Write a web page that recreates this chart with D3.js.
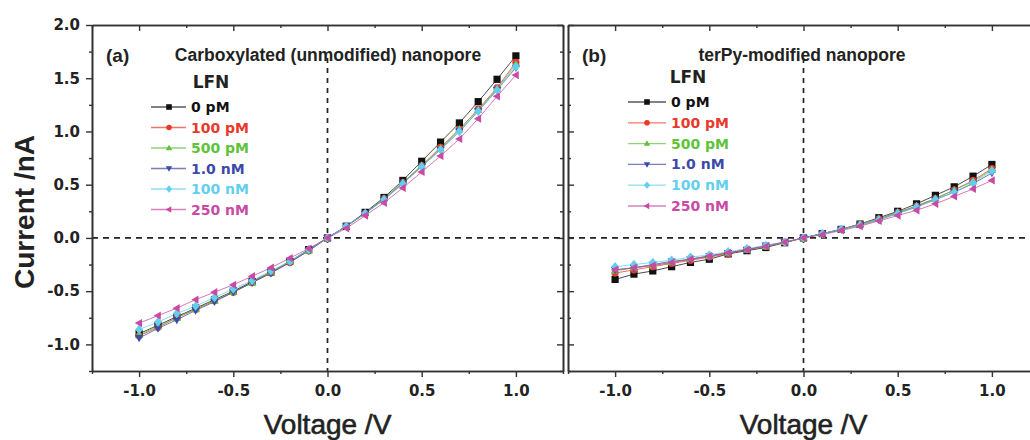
<!DOCTYPE html>
<html><head><meta charset="utf-8">
<script src="https://cdn.jsdelivr.net/npm/d3@7"></script>
<style>
body{margin:0;background:#fff;}
svg{display:block;}
</style></head>
<body><svg id="c" width="1030" height="440"></svg>
<script>
// ---- data ----
const voltages = [-1.0,-0.9,-0.8,-0.7,-0.6,-0.5,-0.4,-0.3,-0.2,-0.1,0.0,0.1,0.2,0.3,0.4,0.5,0.6,0.7,0.8,0.9,1.0];
const seriesNames = ["0 pM","100 pM","500 pM","1.0 nM","100 nM","250 nM"];
const seriesColors = ["#111111","#e8392b","#5fc23a","#3c49a8","#62cfef","#c94aa4"];
const seriesShapes = ["square","circle","triUp","triDown","diamond","triLeft"];

const a0pM   = [-0.90,-0.82,-0.74,-0.66,-0.58,-0.50,-0.41,-0.32,-0.22,-0.11,0.00,0.11,0.24,0.38,0.54,0.72,0.90,1.08,1.28,1.49,1.71];
const a100pM = [-0.92,-0.84,-0.75,-0.67,-0.59,-0.51,-0.42,-0.33,-0.23,-0.12,0.00,0.11,0.23,0.37,0.52,0.68,0.85,1.02,1.21,1.41,1.65];
const a500pM = [-0.91,-0.83,-0.75,-0.67,-0.59,-0.51,-0.42,-0.32,-0.22,-0.12,0.00,0.11,0.23,0.37,0.52,0.68,0.84,1.02,1.20,1.40,1.63];
const a1nM   = [-0.94,-0.85,-0.77,-0.68,-0.60,-0.51,-0.42,-0.33,-0.23,-0.12,0.00,0.11,0.23,0.36,0.51,0.67,0.83,1.00,1.19,1.39,1.60];
const a100nM = [-0.86,-0.79,-0.71,-0.64,-0.56,-0.48,-0.40,-0.31,-0.22,-0.11,0.00,0.11,0.23,0.36,0.51,0.67,0.83,1.00,1.19,1.39,1.61];
const a250nM = [-0.80,-0.73,-0.66,-0.58,-0.51,-0.44,-0.36,-0.28,-0.19,-0.10,0.00,0.09,0.21,0.33,0.47,0.62,0.77,0.93,1.12,1.33,1.53];

const b0pM   = [-0.39,-0.34,-0.31,-0.27,-0.23,-0.20,-0.15,-0.12,-0.09,-0.045,0.00,0.04,0.08,0.13,0.19,0.25,0.32,0.40,0.48,0.58,0.69];
const b100pM = [-0.33,-0.30,-0.27,-0.24,-0.21,-0.18,-0.15,-0.11,-0.08,-0.04,0.00,0.04,0.08,0.13,0.18,0.24,0.30,0.37,0.45,0.54,0.65];
const b500pM = [-0.31,-0.28,-0.26,-0.23,-0.20,-0.17,-0.14,-0.11,-0.08,-0.04,0.00,0.04,0.08,0.13,0.18,0.24,0.30,0.37,0.45,0.53,0.64];
const b1nM   = [-0.30,-0.28,-0.25,-0.22,-0.20,-0.17,-0.14,-0.11,-0.07,-0.04,0.00,0.04,0.08,0.12,0.17,0.23,0.29,0.36,0.43,0.51,0.61];
const b100nM = [-0.27,-0.25,-0.23,-0.21,-0.18,-0.16,-0.13,-0.10,-0.07,-0.04,0.00,0.04,0.08,0.12,0.17,0.23,0.29,0.36,0.43,0.52,0.63];
const b250nM = [-0.30,-0.28,-0.26,-0.23,-0.20,-0.17,-0.14,-0.11,-0.08,-0.04,0.00,0.03,0.07,0.11,0.16,0.21,0.26,0.32,0.39,0.46,0.54];

const xMajor = [-1.0,-0.5,0.0,0.5,1.0];
const xMinor = [-1.25,-0.75,-0.25,0.25,0.75,1.25];
const yMajor = [-1.0,-0.5,0.0,0.5,1.0,1.5,2.0];
const yMinor = [-1.25,-0.75,-0.25,0.25,0.75,1.25,1.75];
const yLabel = "Current /nA";
const xLabel = "Voltage /V";
const legendTitle = "LFN";

const panels = [
  {tag:"(a)", title:"Carboxylated (unmodified) nanopore", series:[a0pM,a100pM,a500pM,a1nM,a100nM,a250nM],
   left:92, right:563, yAxisLabels:true,
   tagX:106, titleX:328, leg:{lx0:151, mx:169, lx1:186, tx:191, y0:107, dy:20.5, ttlX:211, ttlY:82}},
  {tag:"(b)", title:"terPy-modified nanopore", series:[b0pM,b100pM,b500pM,b1nM,b100nM,b250nM],
   left:568, right:1039, yAxisLabels:false,
   tagX:582, titleX:802, leg:{lx0:628, mx:647, lx1:666, tx:671, y0:102, dy:20.8, ttlX:688, ttlY:77}}
];

// ---- drawing ----
const svg = d3.select("#c");
const plotTop = 25, plotBottom = 371;
const y = d3.scaleLinear().domain([-1.25, 2.0]).range([plotBottom, plotTop]);
const tickFont = "'DejaVu Sans', sans-serif";

function symbolPath(shape, s){
  const h = s;
  switch(shape){
    case "square": return `M${-h},${-h}H${h}V${h}H${-h}Z`;
    case "circle": return d3.symbol(d3.symbolCircle, Math.PI*h*h)();
    case "triUp": return `M0,${-h*1.2}L${h*1.15},${h*0.8}L${-h*1.15},${h*0.8}Z`;
    case "triDown": return `M0,${h*1.2}L${h*1.15},${-h*0.8}L${-h*1.15},${-h*0.8}Z`;
    case "diamond": return `M0,${-h*1.3}L${h*1.1},0L0,${h*1.3}L${-h*1.1},0Z`;
    case "triLeft": return `M${-h*1.2},0L${h*0.8},${-h*1.15}L${h*0.8},${h*1.15}Z`;
  }
}

panels.forEach(p => {
  const x = d3.scaleLinear().domain([-1.25, 1.25]).range([p.left, p.right]);
  const g = svg.append("g");

  // zero dashed lines
  g.append("line").attr("x1",p.left).attr("x2",p.right).attr("y1",y(0)).attr("y2",y(0))
    .attr("stroke","#222").attr("stroke-width",1.7).attr("stroke-dasharray","6,5");
  g.append("line").attr("x1",x(0)).attr("x2",x(0)).attr("y1",58).attr("y2",plotBottom)
    .attr("stroke","#222").attr("stroke-width",1.7).attr("stroke-dasharray","5,5");

  // axes
  const axStyle = sel => { sel.selectAll("path.domain").attr("stroke","#333").attr("stroke-width",1.6);
    sel.selectAll(".tick line").attr("stroke","#333").attr("stroke-width",1.4); };
  const fmt = d => d3.format(".1f")(d).replace("\u2212","-");

  const bMaj = g.append("g").attr("transform",`translate(0,${plotBottom})`)
    .call(d3.axisBottom(x).tickValues(xMajor).tickSizeInner(6).tickSizeOuter(0).tickPadding(8).tickFormat(fmt));
  bMaj.call(axStyle);
  bMaj.selectAll("text").attr("font-family",tickFont).attr("font-weight","bold").attr("font-size",15).attr("fill","#222");
  const bMin = g.append("g").attr("transform",`translate(0,${plotBottom})`)
    .call(d3.axisBottom(x).tickValues(xMinor).tickSizeInner(3).tickSizeOuter(0).tickFormat(""));
  bMin.call(axStyle);

  const tMaj = g.append("g").attr("transform",`translate(0,${plotTop})`)
    .call(d3.axisTop(x).tickValues(xMajor).tickSizeInner(-6).tickSizeOuter(0).tickFormat(""));
  tMaj.call(axStyle);
  const tMin = g.append("g").attr("transform",`translate(0,${plotTop})`)
    .call(d3.axisTop(x).tickValues(xMinor).tickSizeInner(-3).tickSizeOuter(0).tickFormat(""));
  tMin.call(axStyle);

  const lMaj = g.append("g").attr("transform",`translate(${p.left},0)`)
    .call(d3.axisLeft(y).tickValues(yMajor).tickSizeInner(p.yAxisLabels?6:-6).tickSizeOuter(0).tickPadding(p.yAxisLabels?6:3)
      .tickFormat(p.yAxisLabels ? fmt : ""));
  lMaj.call(axStyle);
  lMaj.selectAll("text").attr("font-family",tickFont).attr("font-weight","bold").attr("font-size",15).attr("fill","#222");
  const lMin = g.append("g").attr("transform",`translate(${p.left},0)`)
    .call(d3.axisLeft(y).tickValues(yMinor).tickSizeInner(p.yAxisLabels?3:-3).tickSizeOuter(0).tickFormat(""));
  lMin.call(axStyle);

  const rMaj = g.append("g").attr("transform",`translate(${p.right},0)`)
    .call(d3.axisRight(y).tickValues(yMajor).tickSizeInner(-6).tickSizeOuter(0).tickFormat(""));
  rMaj.call(axStyle);
  const rMin = g.append("g").attr("transform",`translate(${p.right},0)`)
    .call(d3.axisRight(y).tickValues(yMinor).tickSizeInner(-3).tickSizeOuter(0).tickFormat(""));
  rMin.call(axStyle);

  // series
  const line = d3.line().x((d,i)=>x(voltages[i])).y(d=>y(d));
  p.series.forEach((vals, si) => {
    g.append("path").datum(vals).attr("d", line).attr("fill","none")
      .attr("stroke", seriesColors[si]).attr("stroke-width",1).attr("stroke-opacity",0.75);
  });
  p.series.forEach((vals, si) => {
    g.selectAll(null).data(vals).enter().append("path")
      .attr("transform",(d,i)=>`translate(${x(voltages[i])},${y(d)})`)
      .attr("d", symbolPath(seriesShapes[si], 3.6))
      .attr("fill", seriesColors[si]);
  });

  // labels
  g.append("text").attr("x",p.tagX).attr("y",55).attr("dominant-baseline","central")
    .attr("font-family","'Liberation Sans', Arial, sans-serif").attr("font-weight","bold").attr("font-size",19).attr("fill","#222").text(p.tag);
  g.append("text").attr("x",p.titleX).attr("y",55).attr("dominant-baseline","central").attr("text-anchor","middle")
    .attr("font-family","'Liberation Sans', Arial, sans-serif").attr("font-weight","bold").attr("font-size",17.5).attr("fill","#222").text(p.title);

  // legend
  const L = p.leg;
  g.append("text").attr("x",L.ttlX).attr("y",L.ttlY).attr("dominant-baseline","central").attr("text-anchor","middle")
    .attr("font-family",tickFont).attr("font-weight","bold").attr("font-size",17).attr("fill","#222").text(legendTitle);
  seriesNames.forEach((nm, si) => {
    const yy = L.y0 + si*L.dy;
    g.append("line").attr("x1",L.lx0).attr("x2",L.lx1).attr("y1",yy).attr("y2",yy)
      .attr("stroke",seriesColors[si]).attr("stroke-width",1.3).attr("stroke-opacity",0.7);
    g.append("path").attr("transform",`translate(${L.mx},${yy})`).attr("d",symbolPath(seriesShapes[si],2.8)).attr("fill",seriesColors[si]);
    g.append("text").attr("x",L.tx).attr("y",yy).attr("dominant-baseline","central")
      .attr("font-family",tickFont).attr("font-weight","bold").attr("font-size",14).attr("fill",seriesColors[si]).text(nm);
  });

  // x label
  g.append("text").attr("x",x(0)).attr("y",434).attr("text-anchor","middle")
    .attr("font-family","'Liberation Sans', Arial, sans-serif").attr("font-size",28)
    .attr("fill","#222").attr("stroke","#222").attr("stroke-width",0.6).text(xLabel);
});

svg.append("text").attr("transform",`translate(34,212) rotate(-90)`).attr("text-anchor","middle")
  .attr("font-family","'Liberation Sans', Arial, sans-serif").attr("font-weight","bold").attr("font-size",28).attr("fill","#222").text(yLabel);
</script></body></html>
